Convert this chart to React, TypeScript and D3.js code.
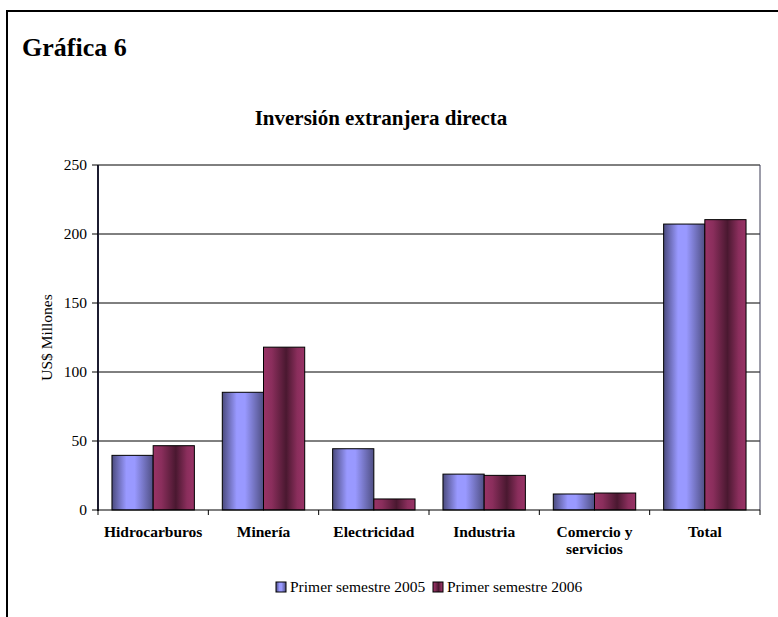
import * as d3 from 'd3';
import { useEffect, useRef } from 'react';

const categories = ['Hidrocarburos', 'Minería', 'Electricidad', 'Industria', 'Comercio y servicios', 'Total'];
const categoryLines = [['Hidrocarburos'], ['Minería'], ['Electricidad'], ['Industria'], ['Comercio y', 'servicios'], ['Total']];
const seriesNames = ['Primer semestre 2005', 'Primer semestre 2006'];
const values2005 = [39.6, 85.3, 44.4, 26, 11.6, 207.2];
const values2006 = [46.6, 118, 8, 25.1, 12.3, 210.4];
const yTicks = [0, 50, 100, 150, 200, 250];

const W = 778;
const H = 617;
const FONT = '"Liberation Serif", "Times New Roman", serif';

const plot = { left: 98, right: 760, top: 165, bottom: 510 };

const App = () => {
    const ref = useRef<SVGSVGElement | null>(null);

    useEffect(() => {
        const svg = d3.select(ref.current);
        svg.selectAll('*').remove();

        // gradients like the old excel fill
        const defs = svg.append('defs');
        const g1 = defs.append('linearGradient').attr('id', 'gBlue');
        [['0%', '#4b4b7e'], ['35%', '#9999ff'], ['55%', '#9999ff'], ['100%', '#4f4f84']].forEach(([o, c]) =>
            g1.append('stop').attr('offset', o).attr('stop-color', c));
        const g2 = defs.append('linearGradient').attr('id', 'gRed');
        [['0%', '#993366'], ['20%', '#8a2e5c'], ['55%', '#4a1830'], ['82%', '#8a2e5c'], ['100%', '#993366']].forEach(([o, c]) =>
            g2.append('stop').attr('offset', o).attr('stop-color', c));
        const fills = ['url(#gBlue)', 'url(#gRed)'];

        // outer frame
        svg.append('rect')
            .attr('x', 7).attr('y', 11)
            .attr('width', W + 20).attr('height', H + 20)
            .attr('fill', 'white').attr('stroke', 'black').attr('stroke-width', 2);

        svg.append('text')
            .attr('x', 22).attr('y', 56)
            .attr('font-family', FONT).attr('font-size', 26).attr('font-weight', 'bold')
            .text('Gráfica 6');

        svg.append('text')
            .attr('x', 381).attr('y', 125)
            .attr('text-anchor', 'middle')
            .attr('font-family', FONT).attr('font-size', 21).attr('font-weight', 'bold')
            .text('Inversión extranjera directa');

        const x = d3.scaleBand<string>()
            .domain(categories)
            .range([plot.left, plot.right]);

        const xs = d3.scaleBand<string>()
            .domain(seriesNames)
            .range([0, x.bandwidth()])
            .paddingOuter(0.339);

        const y = d3.scaleLinear()
            .domain([0, 250])
            .range([plot.bottom, plot.top]);

        // gridlines
        svg.append('g').selectAll('line')
            .data(yTicks.filter(t => t > 0))
            .enter().append('line')
            .attr('x1', plot.left).attr('x2', plot.right)
            .attr('y1', d => y(d)).attr('y2', d => y(d))
            .attr('stroke', 'black').attr('stroke-width', 1);

        // right border of plot area
        svg.append('line')
            .attr('x1', plot.right).attr('x2', plot.right)
            .attr('y1', plot.top).attr('y2', plot.bottom)
            .attr('stroke', '#3a3a55').attr('stroke-width', 1);

        const data = [values2005, values2006];
        const barG = svg.append('g');
        categories.forEach((c, i) => {
            seriesNames.forEach((s, j) => {
                const v = data[j][i];
                barG.append('rect')
                    .attr('x', (x(c) ?? 0) + (xs(s) ?? 0))
                    .attr('y', y(v))
                    .attr('width', xs.bandwidth())
                    .attr('height', y(0) - y(v))
                    .attr('fill', fills[j])
                    .attr('stroke', 'black').attr('stroke-width', 1);
            });
        });

        // y axis
        const yAxis = svg.append('g');
        yAxis.append('line')
            .attr('x1', plot.left).attr('x2', plot.left)
            .attr('y1', plot.top).attr('y2', plot.bottom + 1)
            .attr('stroke', '#1c1c30').attr('stroke-width', 2);
        yAxis.selectAll('.tk').data(yTicks).enter().append('line')
            .attr('x1', plot.left - 6).attr('x2', plot.left)
            .attr('y1', d => y(d)).attr('y2', d => y(d))
            .attr('stroke', 'black');
        yAxis.selectAll('text').data(yTicks).enter().append('text')
            .attr('x', 87).attr('y', d => y(d))
            .attr('dy', '0.35em')
            .attr('text-anchor', 'end')
            .attr('font-family', FONT).attr('font-size', 15.5)
            .text(d => d);

        svg.append('text')
            .attr('transform', `translate(52, ${(plot.top + plot.bottom) / 2}) rotate(-90)`)
            .attr('text-anchor', 'middle')
            .attr('font-family', FONT).attr('font-size', 15.5)
            .text('US$ Millones');

        // x axis
        const xAxis = svg.append('g');
        xAxis.append('line')
            .attr('x1', plot.left).attr('x2', plot.right)
            .attr('y1', plot.bottom).attr('y2', plot.bottom)
            .attr('stroke', 'black').attr('stroke-width', 1.2);
        const boundaries = categories.map(c => x(c) ?? 0).concat([plot.right]);
        xAxis.selectAll('.tk').data(boundaries).enter().append('line')
            .attr('x1', d => d).attr('x2', d => d)
            .attr('y1', plot.bottom).attr('y2', plot.bottom + 5)
            .attr('stroke', 'black');
        categories.forEach((c, i) => {
            const t = xAxis.append('text')
                .attr('x', (x(c) ?? 0) + x.bandwidth() / 2)
                .attr('y', 537)
                .attr('text-anchor', 'middle')
                .attr('font-family', FONT).attr('font-size', 15.5).attr('font-weight', 'bold');
            categoryLines[i].forEach((line, k) => {
                t.append('tspan')
                    .attr('x', (x(c) ?? 0) + x.bandwidth() / 2)
                    .attr('dy', k === 0 ? 0 : 17)
                    .text(line);
            });
        });

        // legend
        const legend = svg.append('g');
        let lx = 276;
        seriesNames.forEach((s, j) => {
            legend.append('rect')
                .attr('x', lx).attr('y', 582)
                .attr('width', 10).attr('height', 10)
                .attr('fill', fills[j])
                .attr('stroke', 'black').attr('stroke-width', 1);
            legend.append('text')
                .attr('x', lx + 14).attr('y', 592)
                .attr('font-family', FONT).attr('font-size', 15.5)
                .text(s);
            lx += 157;
        });
    }, []);

    return (
        <svg
            ref={ref}
            width={W}
            height={H}
            style={{ position: 'absolute', left: 0, top: 0, background: 'white' }}
        />
    );
};

export default App;
